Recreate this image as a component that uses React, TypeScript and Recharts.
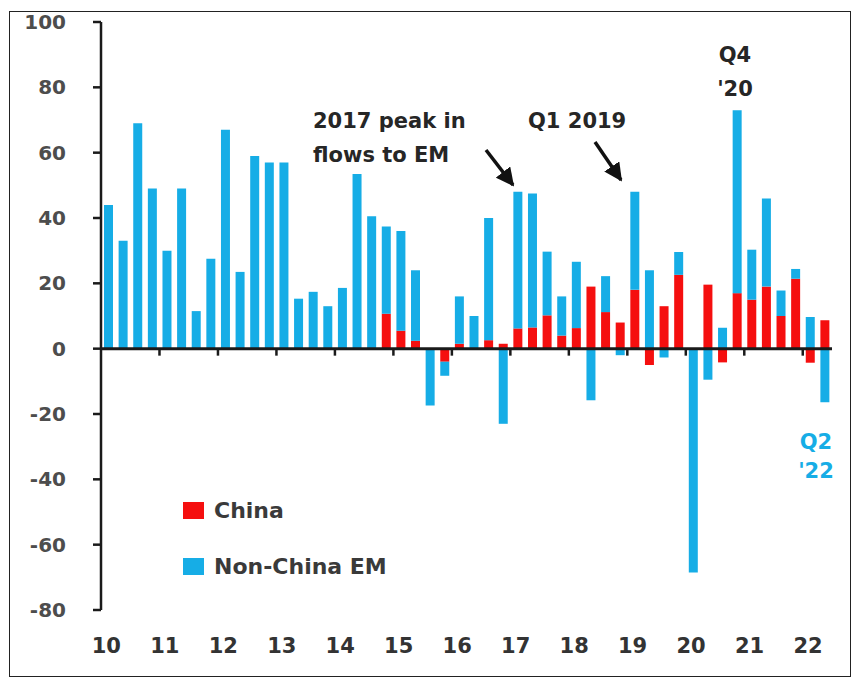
import { BarChart, Bar, XAxis, YAxis, ReferenceLine, Legend } from 'recharts';

const years = ['10', '11', '12', '13', '14', '15', '16', '17', '18', '19', '20', '21', '22'];
const quarterNames = ['Q1', 'Q2', 'Q3', 'Q4'];
const categories = years.flatMap((y) => quarterNames.map((q) => `${q} ${y}`)).slice(0, 50);
const yTicks = [-80, -60, -40, -20, 0, 20, 40, 60, 80, 100];

// $bn per quarter
const china = [
  0, 0, 0, 0,
  0, 0, 0, 0,
  0, 0, 0, 0,
  0, 0, 0, 0,
  0, 0, 0, 10.7,
  5.5, 2.4, 0, -4,
  1.5, 0, 2.6, 1.5,
  6.2, 6.5, 10.2, 4,
  6.3, 19, 11.2, 8,
  18, -5, 13, 22.6,
  0, 19.6, -4.2, 17,
  15, 19, 10, 21.4,
  -4.3, 8.7,
];
const nonChina = [
  44, 33, 69, 49,
  30, 49, 11.5, 27.5,
  67, 23.5, 59, 57,
  57, 15.3, 17.4, 13,
  18.6, 53.5, 40.5, 26.7,
  30.5, 21.6, -17.4, -4.3,
  14.5, 10, 37.4, -23,
  41.8, 41, 19.5, 12,
  20.3, -15.8, 11, -2,
  30, 24, -2.7, 7,
  -68.5, -9.5, 6.4, 56,
  15.3, 27, 7.8, 3,
  9.7, -16.4,
];

const data = categories.map((q, i) => ({ q, china: china[i], nonChina: nonChina[i] }));

const RED = '#f50f0f';
const BLUE = '#16ade6';
const W = 859;
const H = 684;
const LEFT = 101;
const RIGHT = 27;
const TOP = 22;
const BOTTOM = 74;
const BAND = (W - LEFT - RIGHT) / categories.length;
const ZERO_Y = TOP + ((H - TOP - BOTTOM) * 100) / 180;
const FONT = '"DejaVu Sans", Verdana, sans-serif';

const YearTick = ({ x, payload }: any) => {
  const yr = String(payload.value).slice(3);
  return (
    <g>
      <text x={x - 2} y={646} textAnchor="middle" dominantBaseline="central"
        fontFamily={FONT} fontWeight="bold" fontSize={21} fill="#333">
        {yr}
      </text>
      {yr !== '10' && (
        <line x1={x - BAND / 2} x2={x - BAND / 2} y1={ZERO_Y} y2={ZERO_Y + 7} stroke="#1a1a1a" strokeWidth={2.5} />
      )}
    </g>
  );
};

const LegendBox = ({ payload }: any) => (
  <div style={{ fontFamily: FONT, fontWeight: 'bold', fontSize: 22, color: '#3a3a3a' }}>
    {payload.map((entry: any, i: number) => (
      <div key={`lg-${i}`} style={{ display: 'flex', alignItems: 'center', height: 28, marginBottom: 28 }}>
        <div style={{ width: 21, height: 17, background: entry.color, marginRight: 10 }} />
        <span>{entry.value}</span>
      </div>
    ))}
  </div>
);

const App = () => {
  return (
    <div style={{ position: 'absolute', left: 0, top: 0, width: W, height: H, background: '#fff' }}>
      <div style={{ position: 'absolute', left: 9, top: 11, width: 842, height: 666, border: '1.5px solid #222', boxSizing: 'border-box' }} />
      <BarChart width={W} height={H} data={data} stackOffset="sign"
        margin={{ top: TOP, right: RIGHT, bottom: 0, left: 0 }}>
        <XAxis dataKey="q" height={BOTTOM} axisLine={false} tickLine={false} interval={0}
          ticks={categories.filter((c) => c.startsWith('Q1'))} tick={<YearTick />} />
        <YAxis width={LEFT} domain={[-80, 100]} ticks={yTicks} interval={0}
          axisLine={{ stroke: '#1a1a1a', strokeWidth: 2.5 }}
          tickLine={{ stroke: '#1a1a1a', strokeWidth: 2.5 }} tickSize={8} tickMargin={27}
          tick={{ fontFamily: FONT, fontWeight: 'bold', fontSize: 20, fill: '#4d4d4d' }} />
        <Legend layout="vertical" align="center" verticalAlign="middle" content={<LegendBox />}
          wrapperStyle={{ left: 183, top: 496, width: 260 }} />
        <Bar dataKey="china" name="China" stackId="a" fill={RED} barSize={9} isAnimationActive={false} />
        <Bar dataKey="nonChina" name="Non-China EM" stackId="a" fill={BLUE} barSize={9} isAnimationActive={false} />
        <ReferenceLine y={0} stroke="#1a1a1a" strokeWidth={3} />
      </BarChart>
      <svg width={W} height={H} style={{ position: 'absolute', left: 0, top: 0, pointerEvents: 'none' }}>
        <defs>
          <marker id="head" viewBox="0 0 10 10" markerWidth="5.2" markerHeight="5.2" refX="9" refY="5" orient="auto">
            <path d="M0,0 L10,5 L0,10 z" fill="#111" />
          </marker>
        </defs>
        <g fontFamily={FONT} fontWeight="bold" fontSize={21} fill="#262626">
          <text x={313} y={121} dominantBaseline="central">2017 peak in</text>
          <text x={313} y={155} dominantBaseline="central">flows to EM</text>
          <text x={528} y={121} dominantBaseline="central">Q1 2019</text>
          <text x={735} y={55} textAnchor="middle" dominantBaseline="central">Q4</text>
          <text x={735} y={89} textAnchor="middle" dominantBaseline="central">'20</text>
        </g>
        <g fontFamily={FONT} fontWeight="bold" fontSize={21} fill={BLUE}>
          <text x={816} y={442} textAnchor="middle" dominantBaseline="central">Q2</text>
          <text x={816} y={471} textAnchor="middle" dominantBaseline="central">'22</text>
        </g>
        <line x1={486} y1={150} x2={513} y2={185} stroke="#111" strokeWidth={3.5} markerEnd="url(#head)" />
        <line x1={595} y1={142} x2={621} y2={180} stroke="#111" strokeWidth={3.5} markerEnd="url(#head)" />
      </svg>
    </div>
  );
};

export default App;
